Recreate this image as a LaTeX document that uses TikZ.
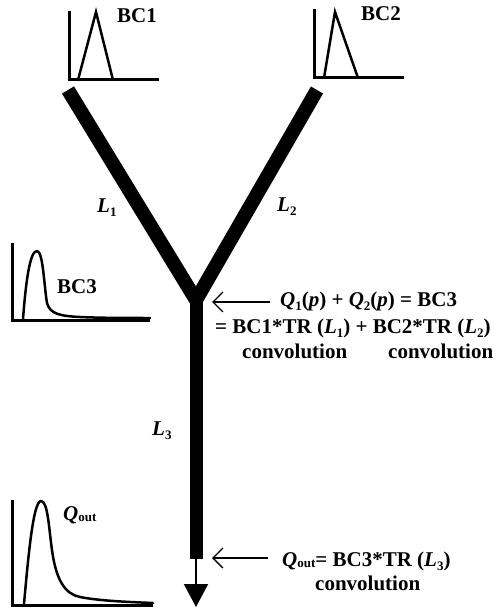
\documentclass[tikz,border=0pt]{standalone}
\usepackage{fontspec}
\setmainfont{Liberation Serif}
\usetikzlibrary{arrows.meta}
\newcommand{\sbs}[1]{\raisebox{-4pt}{\fontsize{13}{13}\selectfont\bfseries #1}}
\newcommand{\sbo}[1]{\raisebox{-1pt}{\fontsize{13}{13}\selectfont\bfseries #1}}
\begin{document}
\begin{tikzpicture}[x=1pt,y=-1pt,
  axis/.style={line width=3pt},
  curve/.style={line width=2.5pt,line join=round,line cap=round},
  pipe/.style={line width=14pt,line join=miter},
  lbl/.style={font=\fontsize{21}{25}\selectfont\bfseries,inner sep=0pt,anchor=base west},
  pointer/.style={line width=1.3pt,-{Straight Barb[length=10pt,width=20pt,line width=1.3pt]}}]
\useasboundingbox (0,0) rectangle (495,609);

% network coordinates
\coordinate (t1) at (68,90);
\coordinate (t2) at (317,90);
\coordinate (J) at (196,300);
\coordinate (sb) at (196,559);
\coordinate (tip) at (196,607);

\draw[pipe] (t1) -- (J) -- (t2);
\draw[line width=13pt] (J) -- (sb);
\draw[line width=2pt,-{Triangle[length=23pt,width=24pt]}] (sb) -- (tip);

% BC1 graph
\draw[axis] (69,11) |- (159,80);
\draw[curve,line join=miter] (78,80) -- (96,12) -- (113,80);
\node[lbl] (bc1) at (117,23) {BC1};

% BC2 graph
\draw[axis] (314,9) |- (404,78);
\draw[curve,line join=miter] (324,78) -- (335,12) -- (358,78);
\node[lbl] (bc2) at (361,21) {BC2};

% BC3 graph
\draw[axis] (12,243) |- (150,320);
\draw[curve] (23,319) .. controls (26,280) and (30,251) .. (37,251)
  .. controls (43,251) and (44,285) .. (47,303)
  .. controls (50,314) and (60,316) .. (80,317)
  .. controls (100,318) and (130,318) .. (150,318);
\node[lbl] (bc3) at (57,293) {BC3};

% Qout graph
\draw[axis] (12,500) |- (153,605);
\draw[curve] (24,604) .. controls (28,560) and (33,501) .. (41,501)
  .. controls (48,501) and (49,530) .. (52,550)
  .. controls (56,580) and (65,594) .. (80,597)
  .. controls (100,601) and (130,602) .. (153,603);
\node[lbl] (qo) at (63,520) {\textit{Q}\sbo{out}};

% pipe labels
\node[lbl] (l1) at (97,213) {\textit{L}\sbs{1}};
\node[lbl] (l2) at (277,212) {\textit{L}\sbs{2}};
\node[lbl] (l3) at (152,435) {\textit{L}\sbs{3}};

% equations
\node[lbl] (eq1) at (280,306) {\textit{Q}\sbs{1}(\textit{p}) + \textit{Q}\sbs{2}(\textit{p}) = BC3};
\node[lbl] (eq2) at (215,333) {= BC1*TR (\textit{L}\sbs{1}) + BC2*TR (\textit{L}\sbs{2})};
\node[lbl] (cv1) at (242,358) {convolution};
\node[lbl] (cv2) at (388,358) {convolution};
\node[lbl] (eq3) at (282,566) {\textit{Q}\sbo{out}= BC3*TR (\textit{L}\sbs{3})};
\node[lbl] (cv3) at (315,590) {convolution};

% pointers
\coordinate (p1s) at (270,302);
\coordinate (p1e) at (212,302);
\coordinate (p2s) at (268,558);
\coordinate (p2e) at (212,558);
\draw[pointer] (p1s) -- (p1e);
\draw[pointer] (p2s) -- (p2e);
\end{tikzpicture}
\end{document}
